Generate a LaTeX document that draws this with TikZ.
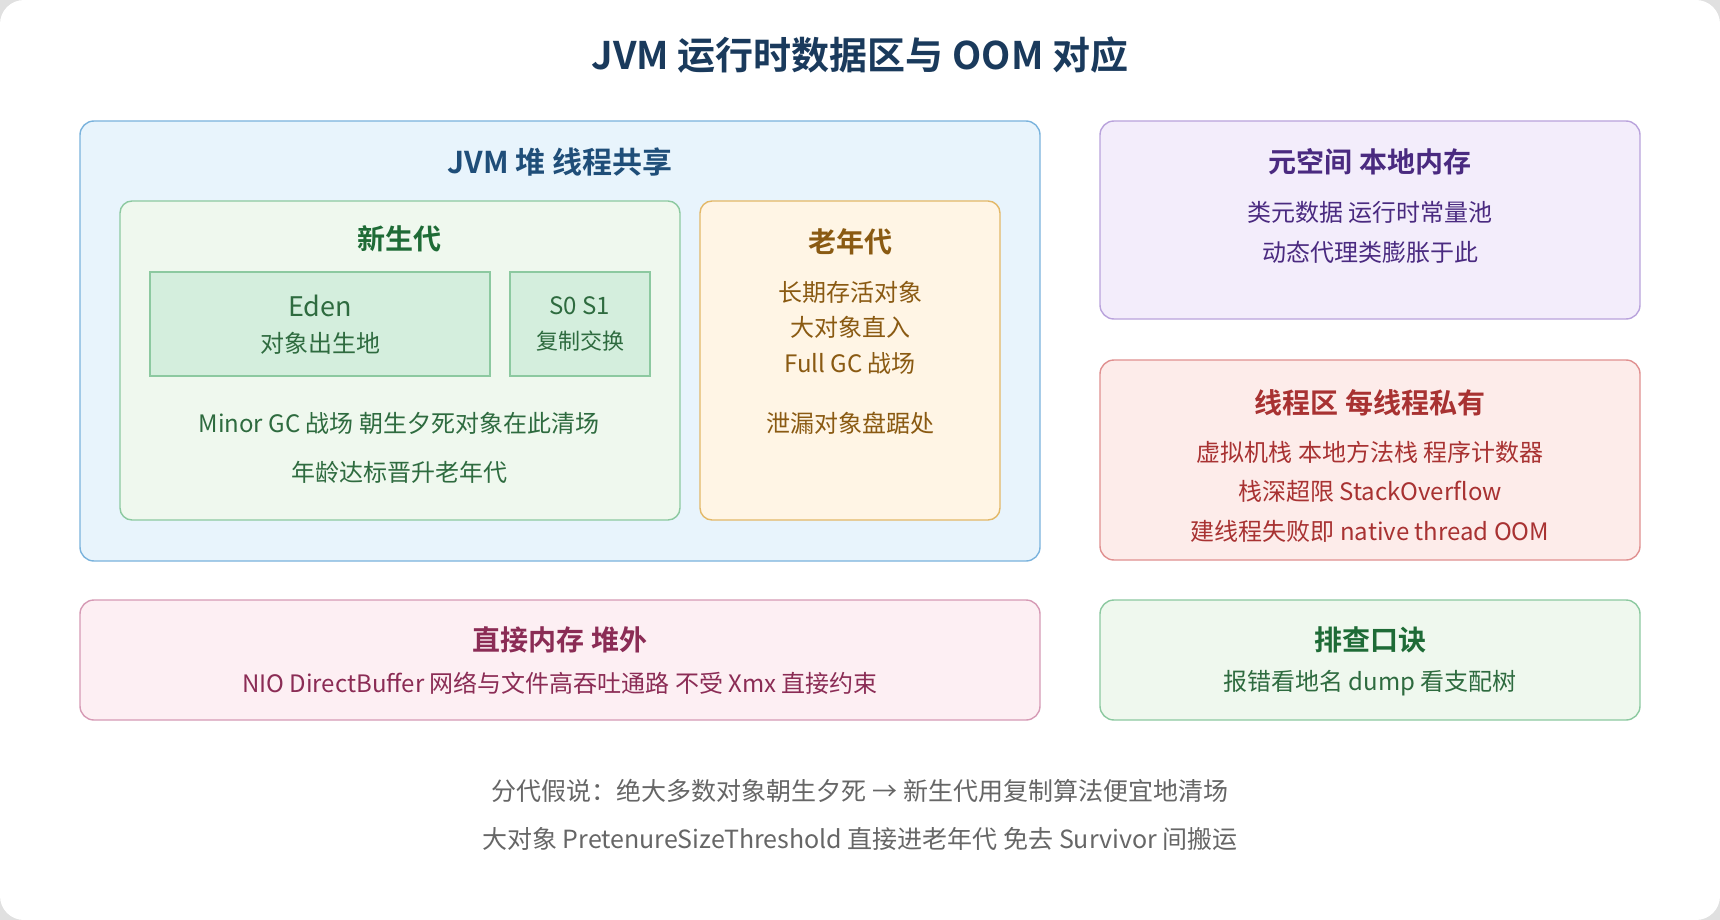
\documentclass[tikz,border=0pt]{standalone}
\usepackage{fontspec}
\setmainfont{Noto Sans CJK SC}
\newfontfamily\boldcjk{Noto Sans CJK SC Bold}
\usetikzlibrary{positioning}
\definecolor{heapfill}{HTML}{E8F4FC}\definecolor{heapline}{HTML}{7AB3DD}\definecolor{heaptext}{HTML}{1F4E79}
\definecolor{youngfill}{HTML}{EFF8EE}\definecolor{youngline}{HTML}{8CC9A0}\definecolor{youngtext}{HTML}{2E6B3F}
\definecolor{edenfill}{HTML}{D4EEDD}\definecolor{youngtitle}{HTML}{1E6B36}
\definecolor{oldfill}{HTML}{FFF5E5}\definecolor{oldline}{HTML}{E3B868}\definecolor{oldtext}{HTML}{8A5A12}
\definecolor{metafill}{HTML}{F3EDFB}\definecolor{metaline}{HTML}{B9A3DC}\definecolor{metatext}{HTML}{4A2A80}
\definecolor{thrfill}{HTML}{FDECEA}\definecolor{thrline}{HTML}{E09090}\definecolor{thrtext}{HTML}{A83232}
\definecolor{dirfill}{HTML}{FDEFF3}\definecolor{dirline}{HTML}{D69AB5}\definecolor{dirtext}{HTML}{8B2C55}
\definecolor{titletext}{HTML}{1A3A5C}\definecolor{foottext}{HTML}{666666}
\tikzset{
  box/.style={draw, rounded corners=7pt, line width=0.7pt, inner sep=0pt},
  cell/.style={draw, line width=0.7pt, inner sep=0pt},
  head/.style={font=\boldcjk\fontsize{14}{16}\selectfont, inner sep=0pt},
  body/.style={font=\fontsize{12}{14}\selectfont, inner sep=0pt},
}
\begin{document}
\begin{tikzpicture}[x=0.5pt,y=-0.5pt]
\fill[black!12] (0,0) rectangle (1720,920);
\fill[white, rounded corners=12pt] (0,0) rectangle (1720,920);
\node[font=\boldcjk\fontsize{19}{22}\selectfont, text=titletext] (title) at (860,55) {JVM 运行时数据区与 OOM 对应};
% heap
\node[box, fill=heapfill, draw=heapline, minimum width=480pt, minimum height=220pt] (heap) at (560,341) {};
\node[head, text=heaptext, font=\boldcjk\fontsize{15}{17}\selectfont] (heapT) at (560,162) {JVM 堆 线程共享};
\node[box, rounded corners=6pt, fill=youngfill, draw=youngline, minimum width=280pt, minimum height=159.5pt] (young) at (400,360.5) {};
\node[head, text=youngtitle] (youngT) at (399,239) {新生代};
\node[cell, fill=edenfill, draw=youngline, minimum width=170pt, minimum height=52pt] (eden) at (320,324) {};
\node[body, text=youngtext, font=\fontsize{13.5}{15}\selectfont] at (320,306) {Eden};
\node[body, text=youngtext] at (320,343) {对象出生地};
\node[cell, fill=edenfill, draw=youngline, minimum width=70pt, minimum height=52pt] (surv) at (580,324) {};
\node[body, text=youngtext] at (580,306) {S0 S1};
\node[body, text=youngtext, font=\fontsize{11}{13}\selectfont] at (580,341) {复制交换};
\node[body, text=youngtext] at (399,423) {Minor GC 战场 朝生夕死对象在此清场};
\node[body, text=youngtext] at (399,472) {年龄达标晋升老年代};
\node[box, rounded corners=6pt, fill=oldfill, draw=oldline, minimum width=150pt, minimum height=159.5pt] (old) at (850,360.5) {};
\node[head, text=oldtext] (oldT) at (850,242) {老年代};
\node[body, text=oldtext] at (850,292) {长期存活对象};
\node[body, text=oldtext] at (850,327) {大对象直入};
\node[body, text=oldtext] at (850,363) {Full GC 战场};
\node[body, text=oldtext] at (850,423) {泄漏对象盘踞处};
% metaspace
\node[box, fill=metafill, draw=metaline, minimum width=270pt, minimum height=99pt] (meta) at (1370,220) {};
\node[head, text=metatext] (metaT) at (1370,162) {元空间 本地内存};
\node[body, text=metatext] at (1370,212) {类元数据 运行时常量池};
\node[body, text=metatext] at (1370,252) {动态代理类膨胀于此};
% threads
\node[box, fill=thrfill, draw=thrline, minimum width=270pt, minimum height=100pt] (thr) at (1370,460) {};
\node[head, text=thrtext] (thrT) at (1370,403) {线程区 每线程私有};
\node[body, text=thrtext] at (1370,452) {虚拟机栈 本地方法栈 程序计数器};
\node[body, text=thrtext] at (1370,491) {栈深超限 StackOverflow};
\node[body, text=thrtext] at (1370,531) {建线程失败即 native thread OOM};
% direct memory
\node[box, fill=dirfill, draw=dirline, minimum width=480pt, minimum height=60pt] (dir) at (560,660) {};
\node[head, text=dirtext] (dirT) at (560,640) {直接内存 堆外};
\node[body, text=dirtext] at (560,683) {NIO DirectBuffer 网络与文件高吞吐通路 不受 Xmx 直接约束};
% checklist
\node[box, fill=youngfill, draw=youngline, minimum width=270pt, minimum height=60pt] (tip) at (1370,660) {};
\node[head, text=youngtitle] (tipT) at (1370,640) {排查口诀};
\node[body, text=youngtext] at (1370,683) {报错看地名 dump 看支配树};
% footer
\node[body, text=foottext, font=\fontsize{12.5}{15}\selectfont] (foot1) at (860,791) {分代假说：绝大多数对象朝生夕死 → 新生代用复制算法便宜地清场};
\node[body, text=foottext, font=\fontsize{12.5}{15}\selectfont] (foot2) at (860,839) {大对象 PretenureSizeThreshold 直接进老年代 免去 Survivor 间搬运};
\end{tikzpicture}
\end{document}
